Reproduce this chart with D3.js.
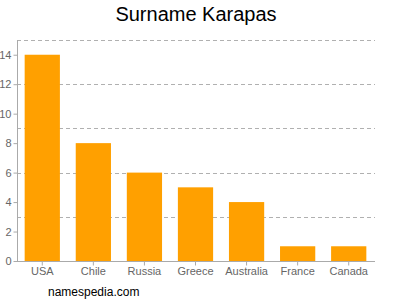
<!DOCTYPE html>
<html lang="en">
<head>
    <meta charset="UTF-8">
    <title>Surname Karapas</title>
    <script src="https://d3js.org/d3.v7.min.js"></script>
    <style>
        body { margin: 0; font-family: Arial, "Liberation Sans", sans-serif; }
        svg { display: block; background: #fff; }
    </style>
</head>
<body>
    <svg width="400" height="300"></svg>
    <script>
        // data
        const countries = ["USA", "Chile", "Russia", "Greece", "Australia", "France", "Canada"];
        const counts = [14, 8, 6, 5, 4, 1, 1];
        const yTicks = [0, 2, 4, 6, 8, 10, 12, 14];
        const gridValues = [3, 6, 9, 12, 15];

        const svg = d3.select("svg");
        const plotLeft = 17, plotRight = 374, plotTop = 40, plotBottom = 261;

        const x = d3.scaleBand()
            .domain(countries)
            .range([plotLeft, plotRight])
            .paddingInner(0.31)
            .paddingOuter(0.15);

        const y = d3.scaleLinear()
            .domain([0, 15])
            .range([plotBottom, plotTop]);

        // dashed grid
        svg.append("g")
            .selectAll("line")
            .data(gridValues)
            .join("line")
            .attr("x1", plotLeft)
            .attr("x2", plotRight + 1)
            .attr("y1", d => Math.round(y(d)) + 0.5)
            .attr("y2", d => Math.round(y(d)) + 0.5)
            .attr("stroke", "#b0b0b0")
            .attr("stroke-dasharray", "4,3");

        // bars
        svg.append("g")
            .selectAll("rect")
            .data(countries)
            .join("rect")
            .attr("x", d => x(d))
            .attr("width", x.bandwidth())
            .attr("y", (d, i) => y(counts[i]))
            .attr("height", (d, i) => plotBottom - y(counts[i]))
            .attr("fill", "#ffa000");

        // y axis
        const yAxis = svg.append("g")
            .attr("transform", `translate(${plotLeft + 0.5},0)`)
            .call(d3.axisLeft(y).tickValues(yTicks).tickSize(4).tickPadding(2).tickSizeOuter(0));
        yAxis.select(".domain").attr("stroke", "#aaa").attr("d", `M0,${plotTop}V${plotBottom}`);
        yAxis.selectAll(".tick line").attr("stroke", "#aaa");
        yAxis.selectAll(".tick text")
            .attr("fill", "#666")
            .style("font-size", "11px")
            .style("font-family", "Arial, 'Liberation Sans', sans-serif");

        // x axis
        const xAxis = svg.append("g")
            .attr("transform", `translate(0,${plotBottom + 0.5})`)
            .call(d3.axisBottom(x).tickSize(4).tickPadding(2).tickSizeOuter(0));
        xAxis.select(".domain").attr("stroke", "#aaa").attr("d", `M${plotLeft},0H${plotRight + 1}`);
        xAxis.selectAll(".tick line").attr("stroke", "#aaa");
        xAxis.selectAll(".tick text")
            .attr("fill", "#666")
            .style("font-size", "11px")
            .style("font-family", "Arial, 'Liberation Sans', sans-serif");

        // title
        svg.append("text")
            .attr("x", 196)
            .attr("y", 21)
            .attr("text-anchor", "middle")
            .style("font-size", "20px")
            .attr("fill", "#000")
            .text("Surname Karapas");

        // source
        svg.append("text")
            .attr("x", 48)
            .attr("y", 296)
            .style("font-size", "12px")
            .attr("fill", "#000")
            .text("namespedia.com");
    </script>
</body>
</html>
